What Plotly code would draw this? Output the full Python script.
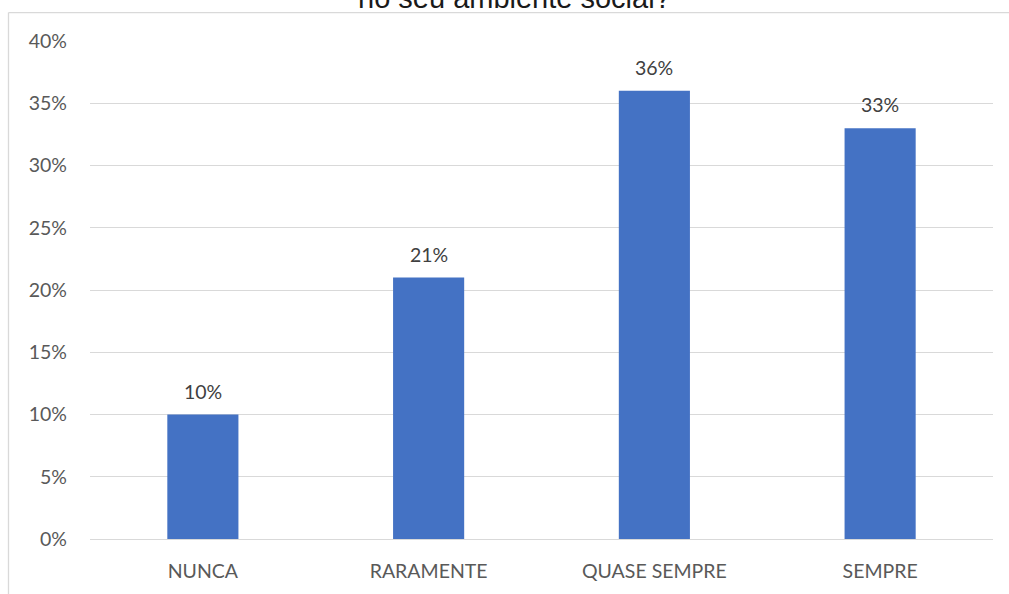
import plotly.graph_objects as go

categories = ["NUNCA", "RARAMENTE", "QUASE SEMPRE", "SEMPRE"]
values = [10, 21, 36, 33]
value_labels = ["10%", "21%", "36%", "33%"]
tick_vals = [0, 5, 10, 15, 20, 25, 30, 35, 40]
tick_text = ["0%", "5%", "10%", "15%", "20%", "25%", "30%", "35%", "40%"]
title_text = "no seu ambiente social?"

W, H = 1009, 594
L, R, T, B = 90, 16, 41, 53
pw, ph = W - L - R, H - T - B

def px_x(p):
    return (p - L) / pw

def px_y(p):
    return (H - B - p) / ph

FONT = "Lato, Open Sans, sans-serif"

fig = go.Figure()
fig.add_trace(go.Bar(
    x=categories, y=values, width=0.315,
    marker=dict(color="#4472C4", line=dict(width=0)),
    hoverinfo="skip",
))

for c, v, t in zip(categories, values, value_labels):
    fig.add_annotation(x=c, y=v, xref="x", yref="y", text=t, showarrow=False,
                       yanchor="bottom", yshift=10,
                       font=dict(family=FONT, size=19.5, color="#404040"))

fig.add_annotation(x=px_x(514), y=px_y(-2), xref="paper", yref="paper", text=title_text,
                   showarrow=False, yanchor="middle", xanchor="center",
                   font=dict(family="Liberation Sans, Arial, sans-serif", size=29, color="#1a1a1a"))

# chart border (partially visible)
fig.add_shape(type="line", xref="paper", yref="paper", x0=px_x(8.5), x1=px_x(8.5),
              y0=px_y(12.5), y1=px_y(700), line=dict(color="#d9d9d9", width=1.3))
fig.add_shape(type="line", xref="paper", yref="paper", x0=px_x(8.5), x1=px_x(1100),
              y0=px_y(12.5), y1=px_y(12.5), line=dict(color="#d9d9d9", width=1.3))

fig.update_layout(
    width=W, height=H,
    margin=dict(l=L, r=R, t=T, b=B, pad=0),
    paper_bgcolor="white", plot_bgcolor="white",
    showlegend=False,
    bargap=0.685,
    xaxis=dict(showgrid=False, showline=False, zeroline=False, ticks="",
               tickfont=dict(family=FONT, size=19.5, color="#595959"),
               ticklabelstandoff=18),
    yaxis=dict(range=[0, 40], tickvals=tick_vals, ticktext=tick_text,
               showgrid=True, gridcolor="#d9d9d9", gridwidth=1,
               zeroline=True, zerolinecolor="#d9d9d9", zerolinewidth=1,
               showline=False, ticks="",
               tickfont=dict(family=FONT, size=19.5, color="#595959"),
               ticklabelstandoff=22),
)

fig.write_html("out.html")
